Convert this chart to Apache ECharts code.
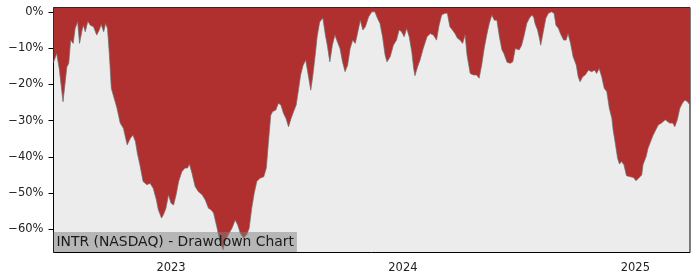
<!DOCTYPE html>
<html>
<head>
<meta charset="utf-8">
<script src="https://cdn.jsdelivr.net/npm/echarts@6/dist/echarts.min.js"></script>
<style>
html,body{margin:0;padding:0;background:#fff;}
#chart{width:700px;height:280px;}
</style>
</head>
<body>
<div id="chart"></div>
<script>
const titleText = 'INTR (NASDAQ) - Drawdown Chart';
const dates = [
'2022-06-30','2022-07-05','2022-07-09','2022-07-15','2022-07-17','2022-07-21','2022-07-24','2022-07-27','2022-07-31',
'2022-08-03','2022-08-07','2022-08-10','2022-08-14','2022-08-16','2022-08-19','2022-08-23','2022-08-27',
'2022-09-01','2022-09-06','2022-09-10','2022-09-13','2022-09-17','2022-09-20','2022-09-23','2022-09-26','2022-09-29',
'2022-10-02','2022-10-08','2022-10-13','2022-10-18','2022-10-24','2022-10-29',
'2022-11-02','2022-11-06','2022-11-09','2022-11-13','2022-11-18','2022-11-24','2022-11-29',
'2022-12-04','2022-12-09','2022-12-12','2022-12-17','2022-12-20','2022-12-24','2022-12-28',
'2023-01-01','2023-01-05','2023-01-09','2023-01-13','2023-01-18','2023-01-23','2023-01-27','2023-01-30',
'2023-02-03','2023-02-08','2023-02-13','2023-02-19','2023-02-24',
'2023-03-01','2023-03-05','2023-03-09','2023-03-14','2023-03-19','2023-03-24','2023-03-27',
'2023-04-01','2023-04-07','2023-04-12','2023-04-16','2023-04-20','2023-04-25','2023-04-30',
'2023-05-04','2023-05-08','2023-05-12','2023-05-16','2023-05-21','2023-05-27','2023-05-31',
'2023-06-03','2023-06-07','2023-06-10','2023-06-15','2023-06-19','2023-06-23','2023-06-27',
'2023-07-01','2023-07-05','2023-07-09','2023-07-13','2023-07-17','2023-07-21','2023-07-24','2023-07-28',
'2023-08-01','2023-08-05','2023-08-09','2023-08-12','2023-08-16','2023-08-19','2023-08-23','2023-08-28',
'2023-09-01','2023-09-04','2023-09-08','2023-09-12','2023-09-16','2023-09-20','2023-09-24','2023-09-28',
'2023-10-02','2023-10-06','2023-10-10','2023-10-14','2023-10-18','2023-10-21','2023-10-26','2023-10-30',
'2023-11-03','2023-11-08','2023-11-13','2023-11-18','2023-11-22','2023-11-26','2023-11-30',
'2023-12-04','2023-12-07','2023-12-12','2023-12-17','2023-12-22','2023-12-26','2023-12-30',
'2024-01-03','2024-01-07','2024-01-11','2024-01-15','2024-01-18','2024-01-20','2024-01-24','2024-01-28',
'2024-02-02','2024-02-08','2024-02-13','2024-02-18','2024-02-23','2024-02-27',
'2024-03-02','2024-03-07','2024-03-11','2024-03-15','2024-03-19','2024-03-23','2024-03-27','2024-03-31',
'2024-04-04','2024-04-08','2024-04-11','2024-04-16','2024-04-21','2024-04-26','2024-04-30',
'2024-05-04','2024-05-08','2024-05-12','2024-05-16','2024-05-20','2024-05-24','2024-05-28',
'2024-06-01','2024-06-05','2024-06-08','2024-06-13','2024-06-18','2024-06-22','2024-06-26','2024-06-29',
'2024-07-02','2024-07-06','2024-07-10','2024-07-14','2024-07-18','2024-07-22','2024-07-25','2024-07-27','2024-07-31',
'2024-08-03','2024-08-05','2024-08-09','2024-08-13','2024-08-17','2024-08-22','2024-08-26','2024-08-29',
'2024-09-02','2024-09-05','2024-09-10','2024-09-14','2024-09-17','2024-09-21','2024-09-25','2024-09-30',
'2024-10-03','2024-10-06','2024-10-10','2024-10-14','2024-10-19','2024-10-24','2024-10-29',
'2024-11-01','2024-11-05','2024-11-09','2024-11-13','2024-11-17','2024-11-21','2024-11-25','2024-11-27','2024-11-30',
'2024-12-04','2024-12-07','2024-12-10','2024-12-14','2024-12-18','2024-12-24','2024-12-29',
'2025-01-02','2025-01-06','2025-01-11','2025-01-13','2025-01-18','2025-01-21','2025-01-25','2025-01-29',
'2025-02-02','2025-02-06','2025-02-11','2025-02-17','2025-02-20','2025-02-24',
'2025-03-01','2025-03-04','2025-03-08','2025-03-12','2025-03-16','2025-03-20','2025-03-24','2025-03-28'
];
const drawdown = [
-14.0,-11.5,-15.6,-24.8,-24.3,-15.2,-14.2,-7.8,-8.7,
-4.6,-2.7,-8.7,-5.0,-3.7,-5.5,-2.6,-3.7,
-4.1,-6.4,-5.0,-3.5,-5.5,-3.2,-4.6,-11.9,-21.1,
-21.6,-26.6,-30.7,-32.1,-36.7,-34.9,
-34.0,-35.8,-39.0,-42.2,-46.8,-47.7,-47.3,
-48.7,-51.9,-54.6,-56.9,-56.0,-54.2,-50.5,
-52.8,-53.3,-50.5,-46.8,-44.1,-43.1,-43.1,-42.0,
-44.5,-48.2,-49.6,-50.5,-51.9,
-54.2,-54.6,-55.5,-59.2,-63.4,-65.6,-63.4,
-61.5,-59.7,-57.4,-58.8,-61.0,-62.4,-61.5,
-59.7,-54.2,-50.0,-46.8,-45.9,-45.5,-43.1,
-36.7,-28.5,-27.5,-27.1,-25.2,-25.7,-28.0,
-29.4,-31.7,-29.4,-27.5,-25.7,-21.1,-17.4,-14.7,
-13.3,-17.4,-21.6,-17.9,-11.9,-6.9,-2.8,-1.7,
-6.4,-9.2,-13.8,-9.2,-6.4,-8.3,-10.1,-13.8,
-16.5,-14.7,-10.1,-7.8,-8.7,-6.4,-2.3,-5.0,
-4.1,-1.4,0,0,-1.8,-3.2,-6.9,
-11.9,-13.8,-12.4,-9.2,-7.8,-5.0,-5.5,
-6.9,-4.6,-6.9,-11.0,-15.6,-17.6,-15.2,-13.3,
-10.1,-6.9,-6.0,-6.4,-7.8,-3.7,
-0.9,-0.4,-0.4,-4.1,-5.0,-6.0,-7.3,-7.8,
-8.7,-6.4,-11.9,-17.0,-17.4,-17.4,-18.3,
-14.7,-10.1,-6.4,-3.2,-0.9,-2.3,-2.3,
-6.9,-10.5,-11.5,-13.9,-14.2,-13.8,-10.1,-9.6,
-10.5,-9.2,-6.4,-3.2,-1.8,-0.9,-1.5,-3.2,-5.0,
-7.3,-9.2,-5.5,-1.8,-0.4,0,-0.4,-3.7,
-4.6,-6.0,-7.8,-7.8,-6.0,-8.7,-12.4,-14.7,
-17.9,-19.3,-17.9,-17.4,-16.1,-16.5,-16.1,
-17.0,-15.6,-17.9,-21.1,-22.0,-26.6,-29.4,-32.6,-35.8,
-40.4,-42.0,-41.3,-42.2,-45.2,-45.5,-45.7,
-46.6,-45.9,-45.0,-42.2,-39.9,-37.6,-35.8,-34.0,
-32.6,-31.2,-30.7,-29.8,-30.3,-30.7,
-30.7,-31.7,-29.8,-26.6,-25.2,-24.3,-24.8,-25.7
];
const yTicks = [-60,-50,-40,-30,-20,-10,0];
const xTickLabels = ['2023-01-01','2024-01-01','2025-01-01'];
const xRange = ['2022-06-30','2025-03-28'];
const yRange = [-66.4, 1.2];

const toTs = s => { const p = s.split('-'); return Date.UTC(+p[0], +p[1]-1, +p[2]); };
const seriesData = dates.map((d,i) => [toTs(d), drawdown[i]]);
const xTicks = xTickLabels.map(toTs);
const font = 'DejaVu Sans';

const chart = echarts.init(document.getElementById('chart'), null, {renderer:'canvas'});
chart.setOption({
  animation: false,
  backgroundColor: '#ffffff',
  title: {
    text: titleText,
    left: 53.5,
    bottom: 28,
    padding: [3, 3, 2, 3],
    backgroundColor: 'rgba(128,128,128,0.5)',
    textStyle: {fontFamily: font, fontSize: 13.9, fontWeight: 'normal', color: '#1a1a1a', lineHeight: 15}
  },
  grid: {
    left: 53.5, right: 10, top: 7.5, bottom: 27.5,
    show: true, backgroundColor: '#ececec', borderColor: '#000', borderWidth: 1
  },
  xAxis: {
    type: 'value',
    min: toTs(xRange[0]), max: toTs(xRange[1]),
    splitLine: {show: false},
    axisLine: {show: false},
    axisTick: {show: true, length: 5, lineStyle: {color: '#000', width: 1}, customValues: xTicks},
    axisLabel: {
      customValues: xTicks, margin: 10,
      fontFamily: font, fontSize: 11.5, color: '#222',
      formatter: v => String(new Date(v).getUTCFullYear())
    }
  },
  yAxis: {
    type: 'value',
    min: yRange[0], max: yRange[1],
    splitLine: {show: false},
    axisLine: {show: false},
    axisTick: {show: true, length: 5, lineStyle: {color: '#000', width: 1}, customValues: yTicks},
    axisLabel: {
      customValues: yTicks, margin: 10,
      fontFamily: font, fontSize: 11.5, color: '#222',
      formatter: v => (v < 0 ? '\u2212' + Math.abs(v) : String(v)) + '%'
    }
  },
  series: [{
    type: 'line',
    data: seriesData,
    showSymbol: false,
    z: 1,
    lineStyle: {color: 'rgba(110,110,110,0.7)', width: 1},
    areaStyle: {color: '#b03030', origin: 'end', opacity: 1}
  }]
});
</script>
</body>
</html>
